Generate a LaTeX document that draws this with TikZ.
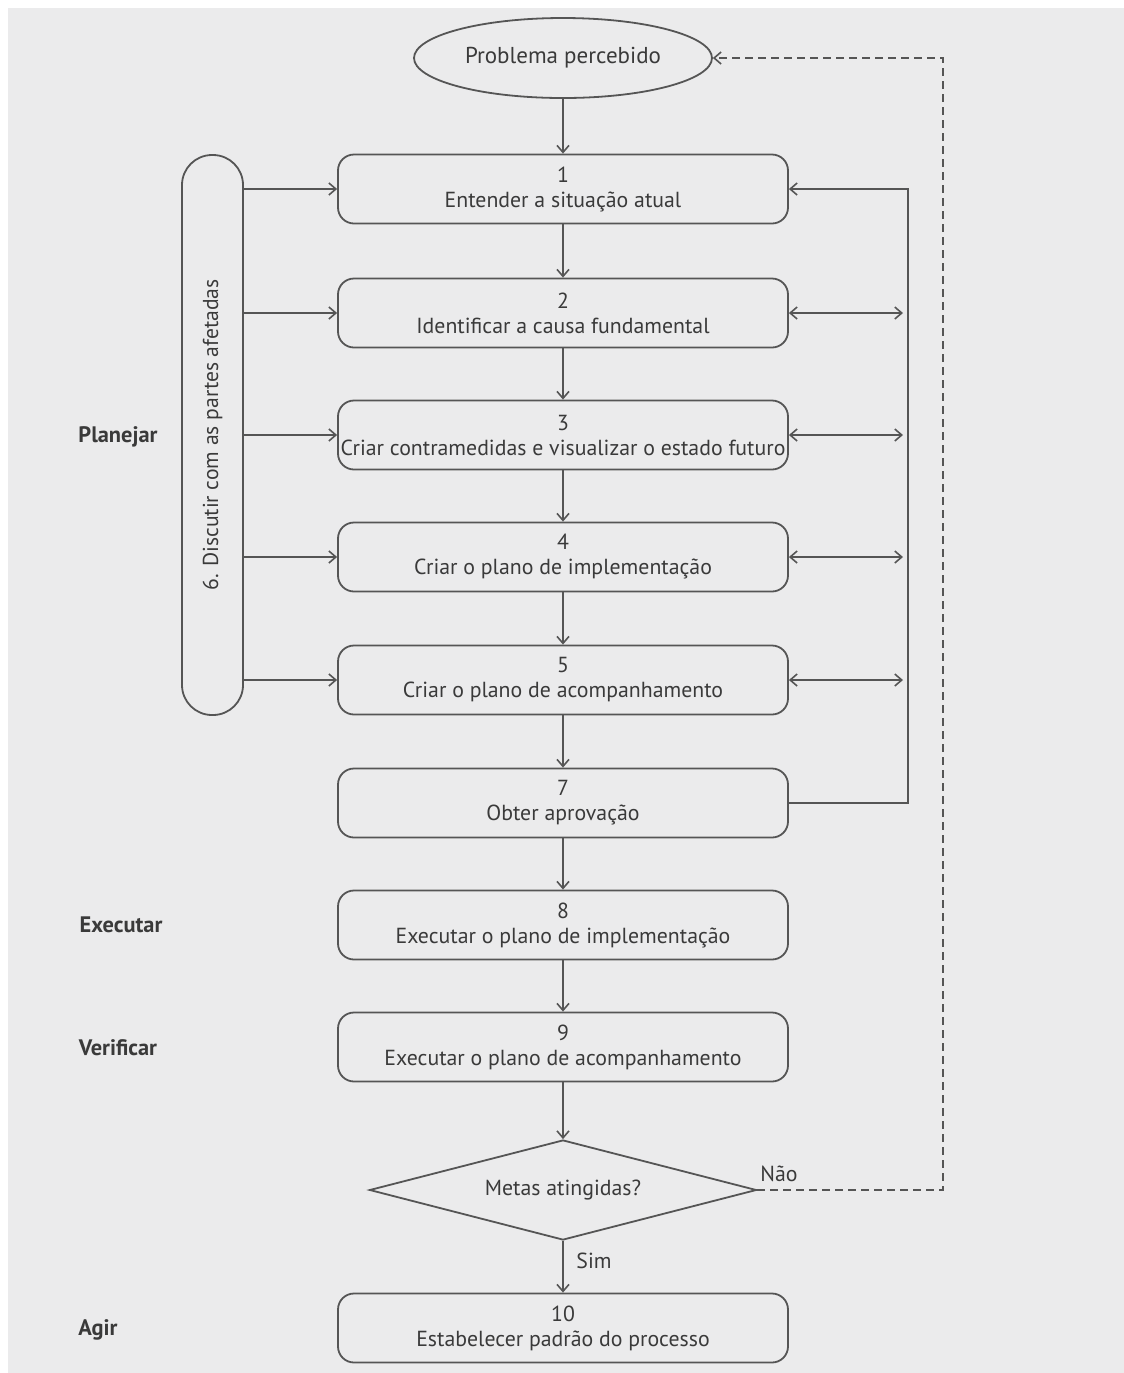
\documentclass[tikz,border=0pt]{standalone}
\usepackage{fontspec}
\setmainfont{PT Sans}
\usetikzlibrary{arrows.meta,shapes.geometric}
\definecolor{pagebg}{HTML}{EBEBEC}
\definecolor{ink}{HTML}{3A3A3A}
\definecolor{linec}{HTML}{555555}
\tikzset{
  stepbox/.style={draw=linec, line width=0.9pt, rounded corners=8pt, minimum width=225pt, minimum height=34.5pt, inner sep=0pt, align=center, font=\fontsize{10.9}{12.5}\selectfont, text=ink},
  phase/.style={font=\bfseries\fontsize{11.2}{13}\selectfont, text=ink},
  conn/.style={draw=linec, line width=0.8pt},
  arr/.style={conn, -{Straight Barb[length=3.5pt,width=6pt]}},
  darr/.style={conn, {Straight Barb[length=3.5pt,width=6pt]}-{Straight Barb[length=3.5pt,width=6pt]}},
}
\begin{document}
\begin{tikzpicture}[x=0.5pt,y=-0.5pt]
\useasboundingbox (0,0) rectangle (1124,1373);
\fill[white] (0,0) rectangle (1124,1373);
\fill[pagebg] (8,8) rectangle (1124,1373);
% start ellipse
\node[ellipse, draw=linec, line width=0.9pt, minimum width=149pt, minimum height=40pt, inner sep=0pt, text=ink, font=\fontsize{11.5}{13}\selectfont] (e) at (563,58) {Problema percebido};
% steps
\node[stepbox] (b1) at (563,189) {1\\Entender a situação atual};
\node[stepbox] (b2) at (563,313) {2\\Identificar a causa fundamental};
\node[stepbox] (b3) at (563,435) {3\\Criar contramedidas e visualizar o estado futuro};
\node[stepbox] (b4) at (563,557) {4\\Criar o plano de implementação};
\node[stepbox] (b5) at (563,680) {5\\Criar o plano de acompanhamento};
\node[stepbox] (b7) at (563,803) {7\\Obter aprovação};
\node[stepbox] (b8) at (563,925) {8\\Executar o plano de implementação};
\node[stepbox] (b9) at (563,1047) {9\\Executar o plano de acompanhamento};
\node[diamond, shape aspect=3.87, draw=linec, line width=0.9pt, minimum width=193.5pt, minimum height=50pt, inner sep=0pt, text=ink, font=\fontsize{10.9}{12.5}\selectfont] (d) at (563,1190) {Metas atingidas?};
\node[stepbox] (b10) at (563,1328) {10\\Estabelecer padrão do processo};
% pill
\node[draw=linec, line width=0.9pt, rounded corners=15pt, minimum width=30.5pt, minimum height=280pt, inner sep=0pt] (pill) at (212.5,435) {};
\node[rotate=90, text=ink, font=\fontsize{10.8}{12}\selectfont] (pilltxt) at (pill.center) {6. Discutir com as partes afetadas};
% phase labels
\node[phase] (ph1) at (118,437) {Planejar};
\node[phase] (ph2) at (121,925) {Executar};
\node[phase] (ph3) at (118,1048) {Verificar};
\node[phase] (ph4) at (98,1330) {Agir};
% main flow
\draw[arr] (e) -- (b1);
\draw[arr] (b1) -- (b2);
\draw[arr] (b2) -- (b3);
\draw[arr] (b3) -- (b4);
\draw[arr] (b4) -- (b5);
\draw[arr] (b5) -- (b7);
\draw[arr] (b7) -- (b8);
\draw[arr] (b8) -- (b9);
\draw[arr] (b9) -- (d.north);
\draw[arr] (d.south) -- node[right=3pt, text=ink, font=\fontsize{10.9}{12.5}\selectfont, pos=0.38] (sim) {Sim} (b10);
% pill arrows
\foreach \b in {b1,b2,b3,b4,b5}{
  \draw[arr] (pill.east |- \b.west) -- (\b.west);
}
% right loop
\coordinate (R) at (908,0);
\draw[arr] (b7.east) -- (b7.east -| R) -- (b1.east -| R) -- (b1.east);
\foreach \b in {b2,b3,b4,b5}{
  \draw[darr, shorten >=2.5pt] (\b.east) -- (\b.east -| R);
}
% dashed feedback
\coordinate (D) at (943,0);
\draw[arr, dash pattern=on 4pt off 2.5pt] (d.east) -- (d.east -| D) -- (e.east -| D) -- (e.east);
\node[text=ink, font=\fontsize{10.9}{12.5}\selectfont] (nao) at (779,1174) {Não};
\end{tikzpicture}
\end{document}
